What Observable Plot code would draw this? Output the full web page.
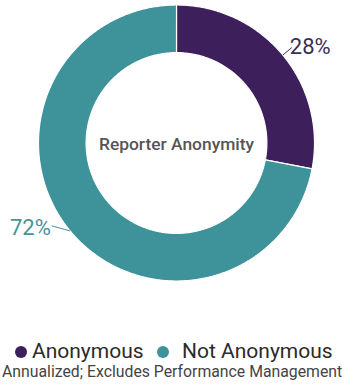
<!DOCTYPE html>
<html>
<head>
<meta charset="utf-8">
<script src="https://cdn.jsdelivr.net/npm/d3@7"></script>
<script src="https://cdn.jsdelivr.net/npm/@observablehq/plot@0.6"></script>
<style>
  html, body { margin: 0; padding: 0; background: #fff; }
  body { width: 353px; height: 385px; overflow: hidden; font-family: Roboto, "Noto Sans", sans-serif; }
  #chart svg { display: block; }
  .legend { position: relative; height: 24px; margin-top: 1px; font-size: 21px; color: #2b2b2b; white-space: nowrap; }
  .legend .sw { position: absolute; top: 7px; width: 12px; height: 12px; border-radius: 50%; }
  .legend .lbl { position: absolute; top: 0; line-height: 24px; }
  .caption { font-size: 15.8px; line-height: 18px; color: #444; white-space: nowrap; padding-left: 2px; }
</style>
</head>
<body>
<div id="chart"></div>
<div class="legend" id="legend"></div>
<div class="caption" id="caption"></div>
<script>
const categories = ["Anonymous", "Not Anonymous"];
const values = [28, 72];
const percentLabels = ["28%", "72%"];
const colors = ["#3c1f5b", "#3d9399"];
const labelColors = ["#3a2f52", "#4a9197"];
const centerTitle = "Reporter Anonymity";
const captionText = "Annualized; Excludes Performance Management";

const innerR = 0.655;
const pie = d3.pie().sort(null)(values);

// Build ring polygons from pie angles
const ringPts = [];
pie.forEach((p, i) => {
  const n = Math.max(8, Math.ceil((p.endAngle - p.startAngle) / 0.01));
  const pts = [];
  for (let k = 0; k <= n; k++) {
    const a = p.startAngle + (p.endAngle - p.startAngle) * k / n;
    pts.push([Math.sin(a), Math.cos(a)]);
  }
  for (let k = n; k >= 0; k--) {
    const a = p.startAngle + (p.endAngle - p.startAngle) * k / n;
    pts.push([innerR * Math.sin(a), innerR * Math.cos(a)]);
  }
  pts.push(pts[0]);
  pts.forEach(([x, y]) => ringPts.push({cat: categories[i], x, y}));
});

// Leader lines and labels
const labelData = pie.map((p, i) => {
  const mid = (p.startAngle + p.endAngle) / 2;
  const right = Math.sin(mid) >= 0;
  const endA = right ? mid : mid + 0.105;
  const r2 = 1.085;
  return {
    label: percentLabels[i],
    color: labelColors[i],
    right,
    x1: Math.sin(mid), y1: Math.cos(mid),
    x2: r2 * Math.sin(endA), y2: r2 * Math.cos(endA)
  };
});
const rightLabels = labelData.filter(d => d.right);
const leftLabels = labelData.filter(d => !d.right);

const W = 353, H = 338;
const chart = Plot.plot({
  width: W,
  height: H,
  marginLeft: 38,
  marginRight: 39,
  marginTop: 4.5,
  marginBottom: H - 280.5,
  x: {domain: [-1, 1], axis: null},
  y: {domain: [-1, 1], axis: null},
  color: {domain: categories, range: colors},
  style: {fontFamily: "Roboto, 'Noto Sans', sans-serif", background: "white"},
  marks: [
    Plot.line(ringPts, {x: "x", y: "y", z: "cat", fill: "cat", stroke: "white", strokeWidth: 1.2, curve: "linear"}),
    Plot.link(labelData, {x1: "x1", y1: "y1", x2: "x2", y2: "y2", stroke: d => d.color, strokeWidth: 1}),
    Plot.text(rightLabels, {x: "x2", y: "y2", text: "label", fill: d => d.color, textAnchor: "start", lineAnchor: "bottom", dx: -2, dy: 6, fontSize: 22}),
    Plot.text(leftLabels, {x: "x2", y: "y2", text: "label", fill: d => d.color, textAnchor: "end", lineAnchor: "middle", dx: -1, dy: 2, fontSize: 22}),
    Plot.text([centerTitle], {frameAnchor: "middle", text: d => d, fill: "#555", fontSize: 17.4, fontWeight: 500, dy: 1})
  ]
});
document.getElementById("chart").appendChild(chart);

// legend layout (pixel positions of swatches and labels)
const swatchLeft = [15, 157];
const labelLeft = [32, 182];
const legend = document.getElementById("legend");
categories.forEach((c, i) => {
  const sw = document.createElement("span");
  sw.className = "sw";
  sw.style.left = swatchLeft[i] + "px";
  sw.style.background = colors[i];
  legend.appendChild(sw);
  const t = document.createElement("span");
  t.className = "lbl";
  t.style.left = labelLeft[i] + "px";
  t.textContent = c;
  legend.appendChild(t);
});
document.getElementById("caption").textContent = captionText;
</script>
</body>
</html>
